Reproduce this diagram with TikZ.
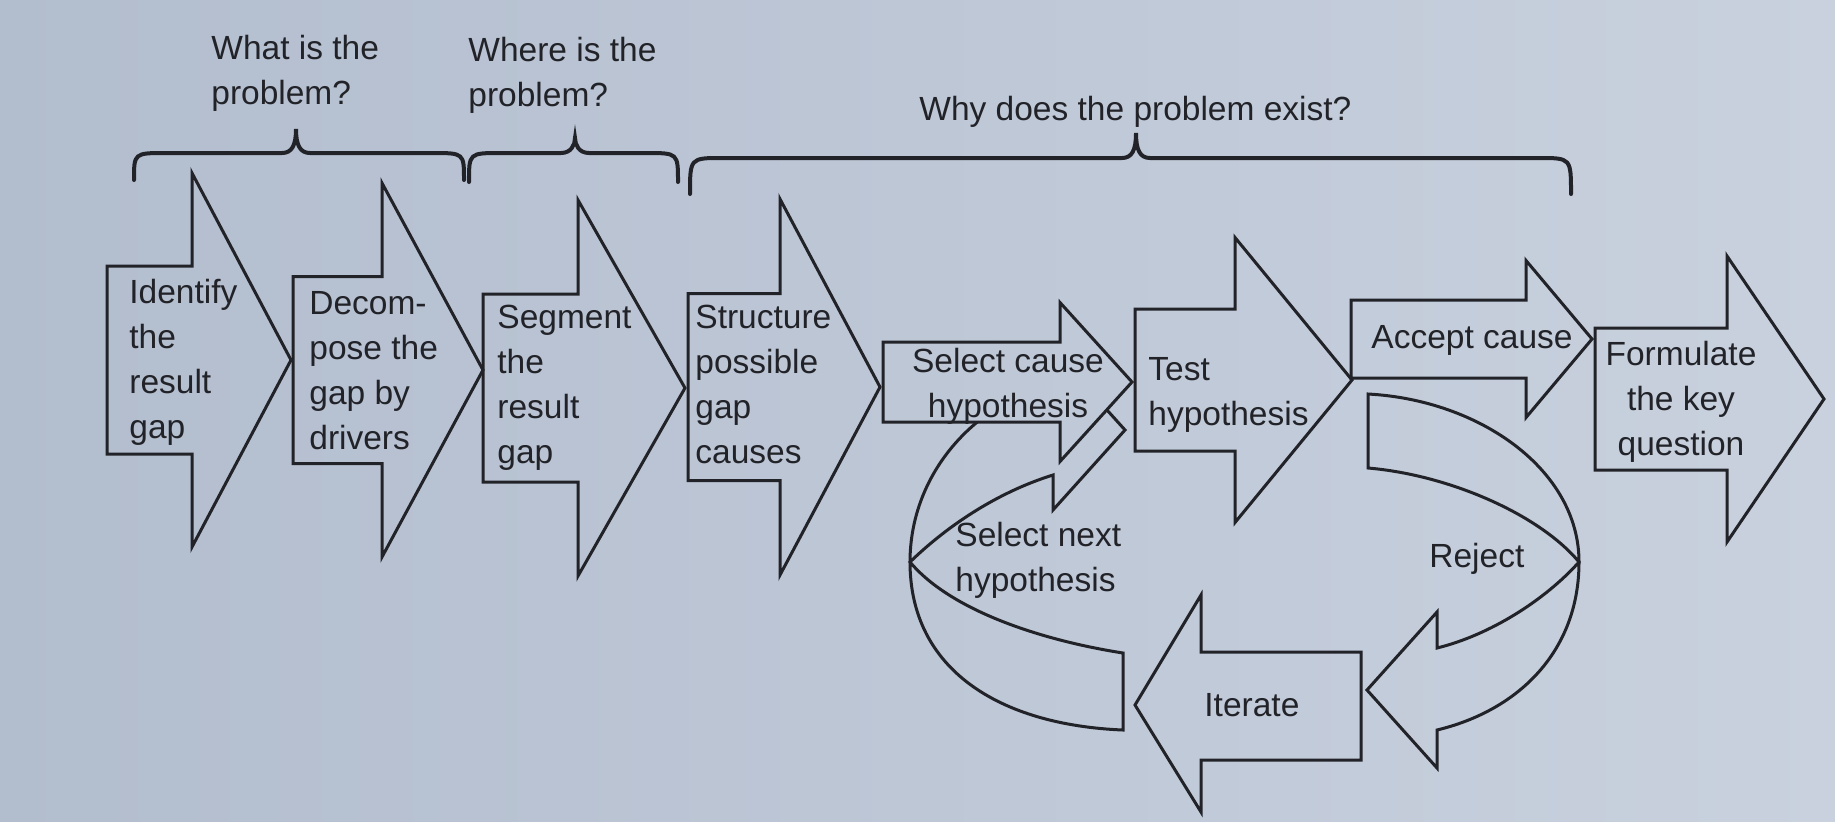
\documentclass[tikz,border=0pt]{standalone}
\usepackage{fontspec}
\setmainfont{Liberation Sans}
\definecolor{bgL}{RGB}{178,189,206}
\definecolor{bgR}{RGB}{201,209,222}
\definecolor{ink}{RGB}{34,35,40}
\tikzset{
  blockline/.style={draw=ink, line width=1.5pt, line join=miter},
  bracket/.style={draw=ink, line width=2pt, line cap=round},
  lbl/.style={font=\fontsize{16.75}{22.5}\selectfont, text=ink, inner sep=0pt},
}
% right-pointing block arrow:
% [style] {left x}{centre y}{body half height}{head base x}{head half height}{tip x}
\newcommand\blockarrowright[7][]{%
  \draw[blockline,#1] ({#2},{#3-#4}) -- ({#5},{#3-#4}) -- ({#5},{#3-#6}) -- ({#7},{#3})
    -- ({#5},{#3+#6}) -- ({#5},{#3+#4}) -- ({#2},{#3+#4}) -- cycle;}
% curly brace opening downwards: {x1}{x2}{x tip}{y bar}{y ends}{y tip}
\newcommand\topbrace[6]{%
  \draw[bracket] ({#1},{#5}) .. controls ({#1},{#4}) .. ({#1+32},{#4}) -- ({#3-14},{#4})
    .. controls ({#3-4},{#4}) and ({#3},{#4-8}) .. ({#3},{#6})
    .. controls ({#3},{#4-8}) and ({#3+4},{#4}) .. ({#3+14},{#4}) -- ({#2-32},{#4})
    .. controls ({#2},{#4}) .. ({#2},{#5});}
\begin{document}
\begin{tikzpicture}[x=0.5pt,y=-0.5pt]
  % paper
  \shade[left color=bgL,right color=bgR] (0,0) rectangle (1835,821);
  \useasboundingbox (0,0) rectangle (1835,821);

  % question headings and their braces
  \node[lbl,align=left,anchor=north west] (qwhat) at (211,35) {What is the\\problem?};
  \node[lbl,align=left,anchor=north west] (qwhere) at (468,37) {Where is the\\problem?};
  \node[lbl,anchor=north west] (qwhy) at (919,96) {Why does the problem exist?};
  \topbrace{134}{464}{296}{153}{180}{129}
  \topbrace{469}{678}{575}{153}{182}{138}
  \topbrace{690}{1571}{1136}{158}{194}{133}

  % loop back arrow: select next hypothesis (behind the select-cause arrow)
  \draw[blockline] (1123,653) .. controls (1040,640) and (950,610) .. (910,562)
    .. controls (945,528) and (995,493) .. (1053,475) -- (1053,510) -- (1125,430)
    -- (1053,350) -- (1053,385) .. controls (980,400) and (910,470) .. (910,562)
    .. controls (910,670) and (1000,725) .. (1123,730) -- cycle;

  % main sequence of steps
  \blockarrowright{107}{360}{94}{192}{187}{291}
  \blockarrowright{293}{370}{93.5}{382}{187}{483}
  \blockarrowright{483}{388}{94}{578}{188}{685}
  \blockarrowright{688}{387}{93.5}{780}{188}{880}
  \blockarrowright[left color=bgR!48!bgL,right color=bgR!62!bgL]{883}{382}{40}{1060}{79.5}{1132}
  \blockarrowright{1135}{380}{71}{1235}{142.5}{1352}
  \blockarrowright{1351}{339}{39}{1526}{78.5}{1592}
  \blockarrowright{1595}{399}{71}{1727}{143}{1824}

  % reject: curved arrow round the right side
  \draw[blockline] (1368,394) .. controls (1480,400) and (1579,470) .. (1579,562)
    .. controls (1579,650) and (1520,710) .. (1437,730) -- (1437,768) -- (1367,690)
    -- (1437,612) -- (1437,648) .. controls (1490,635) and (1545,600) .. (1579,562)
    .. controls (1540,515) and (1450,475) .. (1368,468) -- cycle;

  % iterate: left-pointing arrow along the bottom
  \draw[blockline] (1361,652) -- (1201,652) -- (1201,595) -- (1135,705) -- (1201,812)
    -- (1201,760) -- (1361,760) -- cycle;

  % step labels
  \node[lbl,align=left,anchor=north west] (identify) at (129,279) {Identify\\the\\result\\gap};
  \node[lbl,align=left,anchor=north west] (decompose) at (309,291) {Decom-\\pose the\\gap by\\drivers};
  \node[lbl,align=left,anchor=north west] (segment) at (497,305) {Segment\\the\\result\\gap};
  \node[lbl,align=left,anchor=north west] (structure) at (695,305) {Structure\\possible\\gap\\causes};
  \node[lbl,align=center,anchor=north] (selectcause) at (1008,348) {Select cause\\hypothesis};
  \node[lbl,align=left,anchor=north west] (test) at (1148,357) {Test\\hypothesis};
  \node[lbl,anchor=north] (accept) at (1472,325) {Accept cause};
  \node[lbl,align=center,anchor=north] (formulate) at (1681,341) {Formulate\\the key\\question};
  \node[lbl,align=left,anchor=north west] (selectnext) at (955,522) {Select next\\hypothesis};
  \node[lbl,anchor=north west] (reject) at (1429,543) {Reject};
  \node[lbl,anchor=north west] (iterate) at (1204,693) {Iterate};
\end{tikzpicture}
\end{document}
